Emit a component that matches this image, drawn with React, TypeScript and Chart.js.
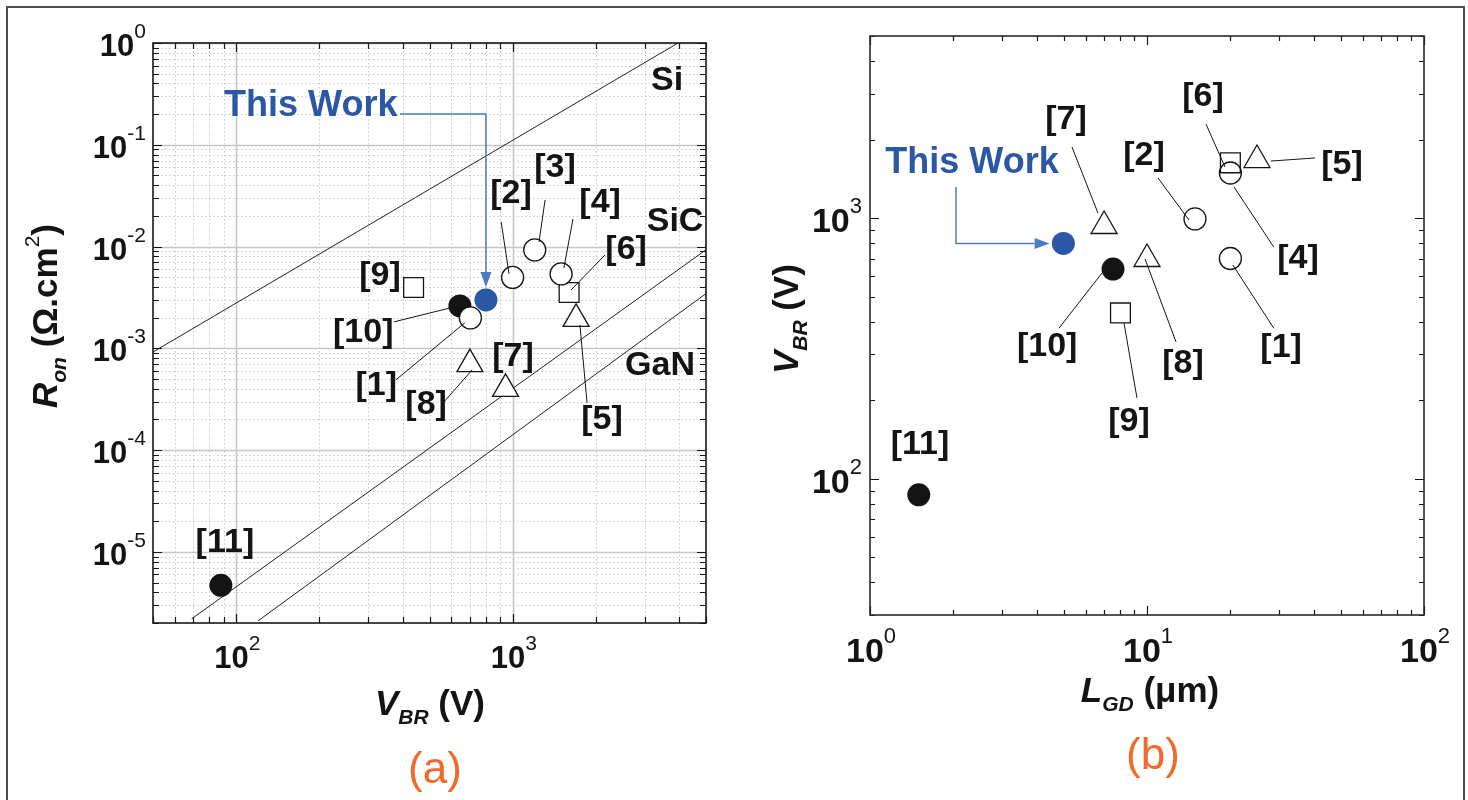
import { useEffect, useRef } from "react";
import { Chart, registerables } from "chart.js";
Chart.register(...registerables);

const FONT = "'Liberation Sans', Arial, Helvetica, sans-serif";
const BLUE = "#2a57a6";
const ARROW_BLUE = "#4b7bc2";
const ORANGE = "#f26a2b";
const INK = "#141414";

// ---------- shared reference list ----------
const refLabels = ["[1]", "[2]", "[3]", "[4]", "[5]", "[6]", "[7]", "[8]", "[9]", "[10]", "[11]"];
const refMarkers = ["circle", "circle", "circle", "circle", "triangle", "rect", "triangle", "triangle", "rect", "dot", "dot"];

// ---------- panel (a): Ron vs VBR ----------
const vbrA = [703, 999, 1201, 1496, 1695, 1599, 942, 700, 438, 644, 88];
const ronA = [1.99e-3, 4.97e-3, 9.26e-3, 5.38e-3, 1.95e-3, 3.54e-3, 4.0e-4, 7.0e-4, 3.96e-3, 2.61e-3, 4.69e-6];
const thisWorkVbrA = 800;
const thisWorkRonA = 2.99e-3;
const limitNames = ["Si", "SiC", "GaN"];
const limitVbr = [[50, 3960], [69, 5000], [120, 5000]];
const limitRon = [[9.2e-4, 1.0], [2.2e-6, 9.3e-3], [2.1e-6, 3.45e-3]];
const xExpsA = [2, 3];
const yExpsA = [0, -1, -2, -3, -4, -5];

// ---------- panel (b): VBR vs LGD ----------
const lgdB = [20, 14.9, null, 20, 24.95, 20, 7.0, 10.0, 8.02, 7.54, 1.5];
const vbrB = [700, 993, null, 1490, 1671, 1630, 933, 697, 433, 638, 86.8];
const thisWorkLgdB = 4.99;
const thisWorkVbrB = 800;
const xExpsB = [0, 1, 2];
const yExpsB = [2, 3];

// ---------- annotation placement (data coordinates) ----------
const labelPosA: Record<string, [number, number]> = {
  "[1]": [321, 4.27e-4], "[2]": [986, 0.0329], "[3]": [1422, 0.0592], "[4]": [2070, 0.0268],
  "[5]": [2104, 1.98e-4], "[6]": [2570, 9.27e-3], "[7]": [1002, 8.23e-4], "[8]": [486, 2.78e-4],
  "[9]": [331, 5.14e-3], "[10]": [288, 1.42e-3], "[11]": [91, 1.23e-5],
};
const limitLabelPosA: [number, number][] = [[3614, 0.453], [3865, 0.01867], [3411, 7.19e-4]];
const leadersA: number[][] = [
  [908, 0.01745, 970, 5.38e-3], [1309, 0.0287, 1245, 0.0111], [1652, 0.01867, 1531, 6.16e-3],
  [2157, 8.27e-3, 1626, 3.75e-3], [372, 1.82e-3, 593, 2.49e-3], [378, 4.9e-4, 671, 1.78e-3],
  [560, 2.91e-4, 713, 6.14e-4], [1750, 1.7e-3, 1857, 2.91e-4],
];
const thisWorkTextA: [number, number] = [186, 0.257];
const arrowA: [number, number][] = [[391, 0.201], [800, 0.201], [800, 4.0e-3]];

const labelPosB: Record<string, [number, number]> = {
  "[1]": [30.5, 318], "[2]": [9.75, 1734], "[4]": [35.1, 697], "[5]": [50.6, 1600],
  "[6]": [15.93, 2918], "[7]": [5.1, 2384], "[8]": [13.49, 275], "[9]": [8.61, 165],
  "[10]": [4.36, 320], "[11]": [1.515, 135],
};
const leadersB: number[][] = [
  [5.36, 1875, 6.65, 1047], [10.96, 1426, 14.18, 984], [16.33, 2296, 19.13, 1571],
  [40.4, 1702, 28.0, 1656], [28.7, 774, 20.6, 1318], [28.7, 378, 20.4, 661],
  [4.81, 378, 6.88, 616], [12.73, 335, 9.84, 697], [8.26, 396, 9.2, 204],
];
const thisWorkTextB: [number, number] = [2.335, 1671];
const arrowB: [number, number][] = [[2.044, 1318], [2.044, 800], [4.45, 800]];

type Run = { t: string; f: string; dy?: number };

function drawRuns(ctx: CanvasRenderingContext2D, runs: Run[], x: number, y: number,
  align: "left" | "center" | "right", rot = 0, color = INK) {
  ctx.save();
  ctx.translate(x, y);
  if (rot) ctx.rotate(rot);
  ctx.fillStyle = color;
  ctx.textBaseline = "alphabetic";
  ctx.textAlign = "left";
  let w = 0;
  const ws = runs.map((r) => { ctx.font = r.f; const m = ctx.measureText(r.t).width; w += m; return m; });
  let cx = align === "center" ? -w / 2 : align === "right" ? -w : 0;
  runs.forEach((r, i) => { ctx.font = r.f; ctx.fillText(r.t, cx, r.dy || 0); cx += ws[i]; });
  ctx.restore();
}

function logValues(min: number, max: number) {
  const out: { v: number; major: boolean }[] = [];
  for (let e = Math.floor(Math.log10(min)); e <= Math.ceil(Math.log10(max)); e++) {
    for (let m = 1; m <= 9; m++) {
      const v = m * Math.pow(10, e);
      if (v >= min * 0.9999 && v <= max * 1.0001) out.push({ v, major: m === 1 });
    }
  }
  return out;
}

function buildDatasets(xs: (number | null)[], ys: (number | null)[], twx: number, twy: number, openFill: string) {
  const groups: Record<string, { x: number; y: number }[]> = { circle: [], rect: [], triangle: [], dot: [] };
  refMarkers.forEach((m, i) => {
    const x = xs[i], y = ys[i];
    if (x == null || y == null) return;
    groups[m].push({ x, y });
  });
  const open = (data: any[], style: string, r: number) => ({
    data, pointStyle: style, pointRadius: r, pointHoverRadius: r,
    pointBackgroundColor: openFill, pointBorderColor: INK, pointBorderWidth: 1.3, showLine: false,
  });
  return [
    open(groups.circle, "circle", 11),
    open(groups.rect, "rect", 14),
    open(groups.triangle, "triangle", 15),
    { data: [{ x: twx, y: twy }], pointStyle: "circle", pointRadius: 11.5, pointHoverRadius: 11.5,
      pointBackgroundColor: BLUE, pointBorderColor: BLUE, pointBorderWidth: 0, showLine: false },
    { data: groups.dot, pointStyle: "circle", pointRadius: 11.5, pointHoverRadius: 11.5,
      pointBackgroundColor: INK, pointBorderColor: INK, pointBorderWidth: 0, showLine: false },
  ];
}

type Decor = {
  grid: boolean;
  xExps: number[]; yExps: number[];
  mainFont: number; supFont: number; supDy: number;
  yLabelGap: number; yLabelDy: number; xLabelDy: number;
  labels: Record<string, [number, number]>;
  leaders: number[][];
  twText: [number, number];
  arrow: [number, number][];
  extraLabels: { t: string; p: [number, number] }[];
  drawTitles: (ctx: CanvasRenderingContext2D) => void;
  tickMajor: number; tickMinor: number; frameColor: string;
};

function makeDecor(d: Decor) {
  return {
    id: "decor",
    beforeDatasetsDraw(chart: any) {
      if (!d.grid) return;
      const ctx: CanvasRenderingContext2D = chart.ctx;
      const a = chart.chartArea;
      const xs = chart.scales.x, ys = chart.scales.y;
      ctx.save();
      const line = (major: boolean) => {
        ctx.strokeStyle = major ? "#c6c6c6" : "#c9c9c9";
        ctx.lineWidth = major ? 1.6 : 1;
        ctx.setLineDash(major ? [] : [1.5, 2.5]);
      };
      logValues(xs.min, xs.max).forEach(({ v, major }) => {
        const p = Math.round(xs.getPixelForValue(v)) + 0.5;
        line(major);
        ctx.beginPath(); ctx.moveTo(p, a.top); ctx.lineTo(p, a.bottom); ctx.stroke();
      });
      logValues(ys.min, ys.max).forEach(({ v, major }) => {
        const p = Math.round(ys.getPixelForValue(v)) + 0.5;
        line(major);
        ctx.beginPath(); ctx.moveTo(a.left, p); ctx.lineTo(a.right, p); ctx.stroke();
      });
      ctx.restore();
    },
    afterDatasetsDraw(chart: any) {
      const ctx: CanvasRenderingContext2D = chart.ctx;
      const a = chart.chartArea;
      const xs = chart.scales.x, ys = chart.scales.y;
      const px = (v: number) => xs.getPixelForValue(v);
      const py = (v: number) => ys.getPixelForValue(v);
      ctx.save();
      // ticks on four sides
      ctx.strokeStyle = INK; ctx.lineWidth = 1.2; ctx.setLineDash([]);
      logValues(xs.min, xs.max).forEach(({ v, major }) => {
        const p = Math.round(px(v)) + 0.5; const L = major ? d.tickMajor : d.tickMinor;
        ctx.beginPath(); ctx.moveTo(p, a.bottom); ctx.lineTo(p, a.bottom - L);
        ctx.moveTo(p, a.top); ctx.lineTo(p, a.top + L); ctx.stroke();
      });
      logValues(ys.min, ys.max).forEach(({ v, major }) => {
        const p = Math.round(py(v)) + 0.5; const L = major ? d.tickMajor : d.tickMinor;
        ctx.beginPath(); ctx.moveTo(a.left, p); ctx.lineTo(a.left + L, p);
        ctx.moveTo(a.right, p); ctx.lineTo(a.right - L, p); ctx.stroke();
      });
      // frame
      ctx.strokeStyle = d.frameColor; ctx.lineWidth = 1.6;
      ctx.strokeRect(a.left, a.top, a.right - a.left, a.bottom - a.top);
      // tick labels
      const main = `bold ${d.mainFont}px ${FONT}`;
      const sup = `${d.supFont}px ${FONT}`;
      d.yExps.forEach((e) => {
        drawRuns(ctx, [{ t: "10", f: main }, { t: String(e), f: sup, dy: d.supDy }],
          a.left - d.yLabelGap, py(Math.pow(10, e)) + d.yLabelDy, "right");
      });
      d.xExps.forEach((e) => {
        drawRuns(ctx, [{ t: "10", f: main }, { t: String(e), f: sup, dy: d.supDy }],
          px(Math.pow(10, e)) + 1, a.bottom + d.xLabelDy, "center");
      });
      // leader lines
      ctx.strokeStyle = INK; ctx.lineWidth = 1;
      d.leaders.forEach(([x1, y1, x2, y2]) => {
        ctx.beginPath(); ctx.moveTo(px(x1), py(y1)); ctx.lineTo(px(x2), py(y2)); ctx.stroke();
      });
      // reference labels
      const lf = `bold 34px ${FONT}`;
      Object.keys(d.labels).forEach((k) => {
        const [x, y] = d.labels[k];
        drawRuns(ctx, [{ t: k, f: lf }], px(x), py(y) + 9, "center");
      });
      d.extraLabels.forEach((l) => {
        drawRuns(ctx, [{ t: l.t, f: lf }], px(l.p[0]), py(l.p[1]) + 12, "center");
      });
      // This Work + arrow
      drawRuns(ctx, [{ t: "This Work", f: `bold 36px ${FONT}` }], px(d.twText[0]), py(d.twText[1]) + 13, "center", 0, BLUE);
      const pts = d.arrow.map(([x, y]) => [px(x), py(y)]);
      ctx.strokeStyle = ARROW_BLUE; ctx.fillStyle = ARROW_BLUE; ctx.lineWidth = 1.5;
      const n = pts.length;
      const [ex, ey] = pts[n - 1]; const [bx, by] = pts[n - 2];
      const ang = Math.atan2(ey - by, ex - bx);
      const HL = 15, HW = 5.5;
      ctx.beginPath(); ctx.moveTo(pts[0][0], pts[0][1]);
      for (let i = 1; i < n - 1; i++) ctx.lineTo(pts[i][0], pts[i][1]);
      ctx.lineTo(ex - Math.cos(ang) * HL, ey - Math.sin(ang) * HL);
      ctx.stroke();
      ctx.beginPath();
      ctx.moveTo(ex, ey);
      ctx.lineTo(ex - Math.cos(ang) * HL - Math.sin(ang) * HW, ey - Math.sin(ang) * HL + Math.cos(ang) * HW);
      ctx.lineTo(ex - Math.cos(ang) * HL + Math.sin(ang) * HW, ey - Math.sin(ang) * HL - Math.cos(ang) * HW);
      ctx.closePath(); ctx.fill();
      d.drawTitles(ctx);
      ctx.restore();
    },
  };
}

const B35 = `bold 35px ${FONT}`;
const BI35 = `italic bold 35px ${FONT}`;
const BI21 = `italic bold 21px ${FONT}`;

function configA(): any {
  const limitSets = limitNames.map((_, i) => ({
    data: [{ x: limitVbr[i][0], y: limitRon[i][0] }, { x: limitVbr[i][1], y: limitRon[i][1] }],
    showLine: true, borderColor: "#222", borderWidth: 1, pointRadius: 0, pointHoverRadius: 0, fill: false, tension: 0,
  }));
  return {
    type: "scatter",
    data: { datasets: [...buildDatasets(vbrA, ronA, thisWorkVbrA, thisWorkRonA, "#ffffff"), ...limitSets] },
    options: {
      responsive: false, animation: false, devicePixelRatio: 1, events: [],
      layout: { padding: { left: 153, top: 43, right: 34, bottom: 177 } },
      plugins: { legend: { display: false }, tooltip: { enabled: false } },
      scales: {
        x: { type: "logarithmic", min: 50, max: 5000, display: false },
        y: { type: "logarithmic", min: 2e-6, max: 1, display: false },
      },
    },
    plugins: [makeDecor({
      grid: true, xExps: xExpsA, yExps: yExpsA, mainFont: 31, supFont: 21, supDy: -18,
      yLabelGap: 7, yLabelDy: 13, xLabelDy: 45,
      labels: labelPosA, leaders: leadersA, twText: thisWorkTextA, arrow: arrowA,
      extraLabels: limitNames.map((t, i) => ({ t, p: limitLabelPosA[i] })),
      tickMajor: 9, tickMinor: 6, frameColor: "#1a1a1a",
      drawTitles: (ctx) => {
        drawRuns(ctx, [{ t: "V", f: BI35 }, { t: "BR", f: BI21, dy: 9 }, { t: " (V)", f: B35 }], 430, 715, "center");
        drawRuns(ctx, [{ t: "R", f: BI35 }, { t: "on", f: BI21, dy: 9 }, { t: " (\u03A9.cm", f: B35 },
          { t: "2", f: `21px ${FONT}`, dy: -18 }, { t: ")", f: B35 }], 57, 316, "center", -Math.PI / 2);
        drawRuns(ctx, [{ t: "(a)", f: `44px ${FONT}` }], 435, 783, "center", 0, ORANGE);
      },
    })],
  };
}

function configB(): any {
  return {
    type: "scatter",
    data: { datasets: buildDatasets(lgdB, vbrB, thisWorkLgdB, thisWorkVbrB, "rgba(255,255,255,0)") },
    options: {
      responsive: false, animation: false, devicePixelRatio: 1, events: [],
      layout: { padding: { left: 130, top: 36, right: 44, bottom: 185 } },
      plugins: { legend: { display: false }, tooltip: { enabled: false } },
      scales: {
        x: { type: "logarithmic", min: 1, max: 100, display: false },
        y: { type: "logarithmic", min: 30, max: 5000, display: false },
      },
    },
    plugins: [makeDecor({
      grid: false, xExps: xExpsB, yExps: yExpsB, mainFont: 34, supFont: 22, supDy: -19,
      yLabelGap: 8, yLabelDy: 14, xLabelDy: 47,
      labels: labelPosB, leaders: leadersB, twText: thisWorkTextB, arrow: arrowB,
      extraLabels: [], tickMajor: 9, tickMinor: 5, frameColor: "#2a2a2a",
      drawTitles: (ctx) => {
        drawRuns(ctx, [{ t: "L", f: BI35 }, { t: "GD", f: BI21, dy: 9 }, { t: " (\u03BCm)", f: B35 }], 410, 702, "center");
        drawRuns(ctx, [{ t: "V", f: BI35 }, { t: "BR", f: BI21, dy: 9 }, { t: " (V)", f: B35 }], 58, 319, "center", -Math.PI / 2);
        drawRuns(ctx, [{ t: "(b)", f: `44px ${FONT}` }], 413, 769, "center", 0, ORANGE);
      },
    })],
  };
}

export default function App() {
  const refA = useRef<HTMLCanvasElement>(null);
  const refB = useRef<HTMLCanvasElement>(null);
  useEffect(() => {
    const a = new Chart(refA.current as HTMLCanvasElement, configA());
    const b = new Chart(refB.current as HTMLCanvasElement, configB());
    return () => { a.destroy(); b.destroy(); };
  }, []);
  return (
    <div style={{ position: "absolute", left: 0, top: 0, width: 1468, height: 800, overflow: "hidden", background: "#fff" }}>
      <canvas ref={refA} width={740} height={800} style={{ position: "absolute", left: 0, top: 0, width: 740, height: 800 }} />
      <canvas ref={refB} width={728} height={800} style={{ position: "absolute", left: 740, top: 0, width: 728, height: 800 }} />
      <div style={{ position: "absolute", left: 6, top: 6, width: 1459, height: 820, boxSizing: "border-box",
        borderTop: "2px solid #4d4d4d", borderLeft: "2px solid #4d4d4d", borderRight: "2px solid #4d4d4d", pointerEvents: "none" }} />
    </div>
  );
}
